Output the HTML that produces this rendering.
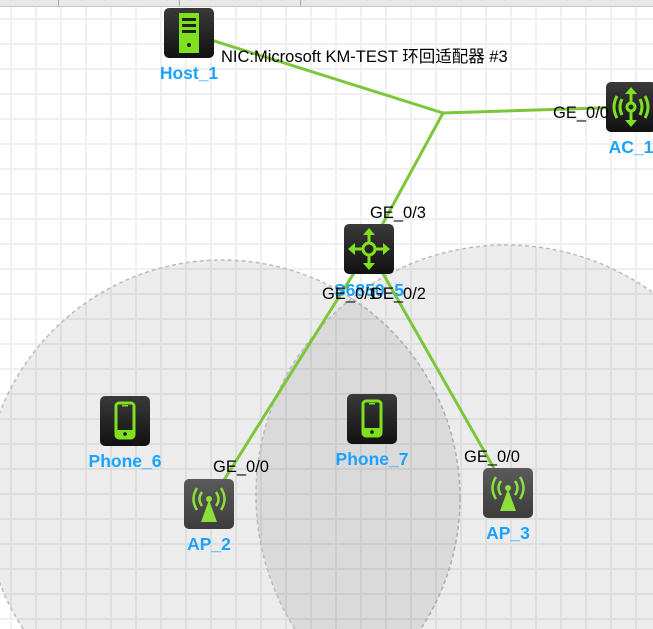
<!DOCTYPE html>
<html><head><meta charset="utf-8"><style>
html,body{margin:0;padding:0;width:653px;height:629px;overflow:hidden;background:#fff}
svg{display:block;position:absolute;left:0;top:0}
.lbl{font-family:"Liberation Sans",Arial,sans-serif;font-weight:bold;font-size:17.5px;fill:#1aa3ff}
.port{font-family:"Liberation Sans","Noto Sans CJK SC",sans-serif;font-size:16.5px;fill:#000}
</style></head><body>
<svg width="653" height="629" viewBox="0 0 653 629" xmlns="http://www.w3.org/2000/svg">
<defs>
<pattern id="grid" x="10" y="18" width="25" height="25" patternUnits="userSpaceOnUse">
<rect x="0" y="0" width="2" height="25" fill="#f0f0f0"/>
<rect x="0" y="0" width="25" height="2" fill="#f0f0f0"/>
</pattern>
<linearGradient id="dk" x1="0" y1="0" x2="0" y2="1"><stop offset="0" stop-color="#3a3a3a"/><stop offset="1" stop-color="#111"/></linearGradient>
<linearGradient id="ap" x1="0" y1="0" x2="0" y2="1"><stop offset="0" stop-color="#5a5a5a"/><stop offset="1" stop-color="#3c3c3c"/></linearGradient>
<g id="phone"><rect width="50" height="50" rx="5" fill="url(#dk)"/><rect x="16" y="7" width="18" height="35" rx="3" fill="none" stroke="#7fe01e" stroke-width="3"/><rect x="16" y="34" width="18" height="8" fill="#7fe01e"/><circle cx="25" cy="38" r="1.8" fill="#111"/><rect x="22" y="9" width="6" height="1.5" fill="#7fe01e"/></g>
<g id="apic"><rect width="50" height="50" rx="5" fill="url(#ap)"/><circle cx="25" cy="20" r="3" fill="#8be03a"/><polygon points="25,21 17,43 33,43" fill="#8be03a"/><g fill="none" stroke="#8be03a" stroke-width="2.5"><path d="M18,13 Q13,20 18,27"/><path d="M13,9 Q6,20 13,31"/><path d="M32,13 Q37,20 32,27"/><path d="M37,9 Q44,20 37,31"/></g></g>
</defs>
<rect width="653" height="629" fill="#fff"/>
<rect width="653" height="629" fill="url(#grid)"/>
<rect x="0" y="0" width="653" height="6" fill="#e8e8e8"/>
<rect x="0" y="6" width="653" height="1" fill="#c8c8c8"/>
<rect x="58" y="0" width="1" height="6" fill="#aaa"/><rect x="179" y="0" width="1" height="6" fill="#aaa"/><rect x="300" y="0" width="1" height="6" fill="#aaa"/>
<circle cx="222" cy="498" r="238" fill="rgba(0,0,0,0.075)" stroke="#bbb" stroke-width="1.5" stroke-dasharray="4,3"/>
<circle cx="506" cy="495" r="250" fill="rgba(0,0,0,0.075)" stroke="#bbb" stroke-width="1.5" stroke-dasharray="4,3"/>
<g stroke="#7dc63c" stroke-width="3" fill="none">
<polyline points="189,33 443,113 631,107"/>
<line x1="443" y1="113" x2="369" y2="249"/>
<line x1="369" y1="249" x2="209" y2="504"/>
<line x1="369" y1="249" x2="508" y2="493"/>
</g>
<g transform="translate(164,8)"><rect width="50" height="50" rx="5" fill="url(#dk)"/><rect x="15" y="5" width="20" height="40" fill="#7fe01e"/><rect x="18" y="10" width="14" height="3" fill="#222"/><rect x="18" y="16" width="14" height="3" fill="#222"/><rect x="18" y="22" width="14" height="3" fill="#222"/><circle cx="25" cy="37" r="2" fill="#222"/></g>
<text class="lbl" x="189" y="79" text-anchor="middle">Host_1</text>
<g transform="translate(606,82)"><rect width="50" height="50" rx="5" fill="url(#dk)"/><g fill="none" stroke="#7fe01e" stroke-width="3"><circle cx="25" cy="25" r="4"/><line x1="25" y1="9" x2="25" y2="21"/><line x1="25" y1="29" x2="25" y2="41"/><path d="M16,17 Q12,25 16,33"/><path d="M11,14 Q5,25 11,36"/><path d="M34,17 Q38,25 34,33"/><path d="M39,14 Q45,25 39,36"/></g><polygon points="25,5 19,12 31,12" fill="#7fe01e"/><polygon points="25,45 19,38 31,38" fill="#7fe01e"/></g>
<text class="lbl" x="631" y="153" text-anchor="middle">AC_1</text>
<g transform="translate(344,224)"><rect width="50" height="50" rx="5" fill="url(#dk)"/><g fill="none" stroke="#7fe01e" stroke-width="3"><circle cx="25" cy="25" r="6"/><line x1="25" y1="7" x2="25" y2="19"/><line x1="25" y1="31" x2="25" y2="43"/><line x1="7" y1="25" x2="19" y2="25"/><line x1="31" y1="25" x2="43" y2="25"/></g><polygon points="25,4 19,11 31,11" fill="#7fe01e"/><polygon points="25,46 19,39 31,39" fill="#7fe01e"/><polygon points="4,25 11,19 11,31" fill="#7fe01e"/><polygon points="46,25 39,19 39,31" fill="#7fe01e"/></g>
<text class="lbl" x="369" y="296" text-anchor="middle">S6850_5</text>
<use href="#phone" x="100" y="396"/>
<text class="lbl" x="125" y="467" text-anchor="middle">Phone_6</text>
<use href="#phone" x="347" y="394"/>
<text class="lbl" x="372" y="465" text-anchor="middle">Phone_7</text>
<use href="#apic" x="184" y="479"/>
<text class="lbl" x="209" y="550" text-anchor="middle">AP_2</text>
<use href="#apic" x="483" y="468"/>
<text class="lbl" x="508" y="539" text-anchor="middle">AP_3</text>
<text class="port" x="221" y="62">NIC:Microsoft KM-TEST 环回适配器 #3</text>
<text class="port" x="553" y="118">GE_0/0</text>
<text class="port" x="370" y="218">GE_0/3</text>
<text class="port" x="322" y="299">GE_0/1</text>
<text class="port" x="370" y="299">GE_0/2</text>
<text class="port" x="213" y="472">GE_0/0</text>
<text class="port" x="464" y="462">GE_0/0</text>
</svg>
</body></html>
